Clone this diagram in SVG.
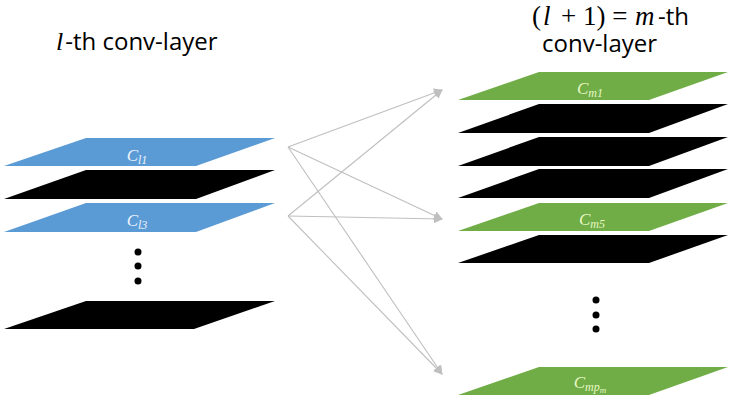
<svg xmlns="http://www.w3.org/2000/svg" width="736" height="405" viewBox="0 0 736 405">
<style>
.t{font-family:"Open Sans","Noto Sans",sans-serif;font-size:24px;fill:#000}
.m{font-family:"Liberation Serif",serif;font-style:italic}
.mt{font-family:"Liberation Serif",serif;font-size:27px;fill:#000}
.lb{font-family:"Liberation Serif",serif;font-style:italic;font-size:17px;text-anchor:middle}
.lb tspan.s{font-size:12px}
.blue{fill:#5B9BD5}
.green{fill:#70AD47}
.blk{fill:#000}
.bt{fill:#EEF4FB}
.gt{fill:#E8F7C4}
.c line{stroke:#BFBFBF;stroke-width:1.1;fill:none}
</style>
<defs>
<marker id="ah" viewBox="0 0 10 10" refX="9" refY="5" markerWidth="9" markerHeight="9" markerUnits="userSpaceOnUse" orient="auto">
<path d="M0,0 L10,5 L0,10 z" fill="#BFBFBF"/>
</marker>
</defs>
<text class="t" x="56" y="50"><tspan class="m" font-size="26">l</tspan><tspan dx="2">-th conv-layer</tspan></text>
<text class="mt" x="532" y="25">(</text>
<text class="mt m" x="543" y="25">l</text>
<text class="mt" x="561" y="25">+ 1) =</text>
<text class="mt m" x="635" y="25">m</text>
<text class="t" x="658" y="25">-th</text>
<text class="t" x="542" y="52">conv-layer</text>
<g id="l1"><polygon class="blue" points="86,138 275,138 196,166 4,166"/><text class="lb bt" x="137" y="161">C<tspan class="s" dy="3">l1</tspan></text></g>
<g id="l2"><polygon class="blk" points="86,170 275,170 196,199 4,199"/></g>
<g id="l3"><polygon class="blue" points="86,203 275,203 196,232 4,232"/><text class="lb bt" x="137" y="226">C<tspan class="s" dy="3">l3</tspan></text></g>
<g id="ldots"><circle cx="138" cy="252" r="3.5"/><circle cx="138" cy="266" r="3.5"/><circle cx="138" cy="281" r="3.5"/></g>
<g id="ln"><polygon class="blk" points="86,301 275,301 194,329 4,329"/></g>
<g id="m1"><polygon class="green" points="539,72 728,72 649,100 458,100"/><text class="lb gt" x="590" y="94">C<tspan class="s" dy="3">m1</tspan></text></g>
<g id="m2"><polygon class="blk" points="539,104 728,104 649,133 458,133"/></g>
<g id="m3"><polygon class="blk" points="539,137 728,137 649,166 458,166"/></g>
<g id="m4"><polygon class="blk" points="539,169 728,169 649,198 458,198"/></g>
<g id="m5"><polygon class="green" points="539,203 728,203 649,231 458,231"/><text class="lb gt" x="592" y="225">C<tspan class="s" dy="3">m5</tspan></text></g>
<g id="m6"><polygon class="blk" points="539,235 728,235 649,263 458,263"/></g>
<g id="mdots"><circle cx="596" cy="300" r="3.5"/><circle cx="596" cy="315" r="3.5"/><circle cx="596" cy="329" r="3.5"/></g>
<g id="mp"><polygon class="green" points="539,367 728,367 649,395 458,395"/><text class="lb gt" x="590" y="388">C<tspan class="s" dy="3">mp<tspan font-size="9" dy="2">m</tspan></tspan></text></g>
<g id="connectors" class="c">
<line x1="288" y1="147" x2="442" y2="90" marker-end="url(#ah)"/>
<line x1="288" y1="147" x2="442" y2="219" marker-end="url(#ah)"/>
<line x1="288" y1="147" x2="442" y2="374" marker-end="url(#ah)"/>
<line x1="288" y1="216" x2="442" y2="90" marker-end="url(#ah)"/>
<line x1="288" y1="216" x2="442" y2="219" marker-end="url(#ah)"/>
<line x1="288" y1="216" x2="442" y2="374" marker-end="url(#ah)"/>
</g>
</svg>
